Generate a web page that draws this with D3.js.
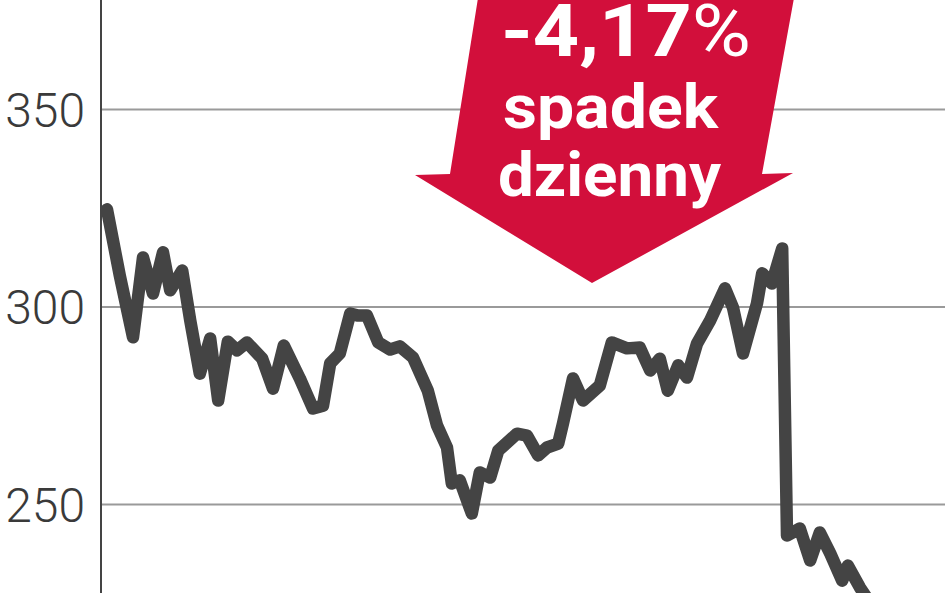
<!DOCTYPE html>
<html>
<head>
<meta charset="utf-8">
<script src="https://cdn.jsdelivr.net/npm/d3@7"></script>
<style>
  html, body { margin: 0; padding: 0; background: #fff; }
  svg { display: block; }
</style>
</head>
<body>
<svg width="948" height="593"></svg>
<script>
// trading-day index and closing price
var days = [0, 1.6, 3.25, 4.5, 5.75, 7, 7.9, 9.4, 10.4, 11.6, 12.9, 13.9, 15.1, 16.25, 17.5,
  19.4, 20.75, 22.1, 24.1, 25.75, 27, 27.9, 29.1, 30.4, 31.4, 32.5, 33.9, 35.4, 36.6, 38.25,
  40.1, 41.25, 42.5, 43.1, 44.1, 45.6, 46.6, 47.9, 48.9, 51.25, 52.5, 53.9, 55, 56.4, 57,
  58.25, 59.5, 61.6, 63.1, 65, 66.6, 67.9, 69.1, 70.1, 71.4, 72.5, 73.75, 75.4, 77.25, 78.25,
  79.5, 81.25, 81.9, 83.1, 84.4, 85, 86.6, 87.9, 89.1, 90.4, 91.9, 92.6, 94.1, 95.6, 96.9];
var prices = [324.6, 307.8, 292.2, 312.4, 303.3, 313.7, 304.1, 309.1, 296.5, 283.0, 291.9, 276.2, 291.1, 288.9, 290.9,
  286.8, 279.2, 290.1, 281.8, 274.2, 274.9, 285.6, 288.1, 298.2, 297.7, 297.7, 290.9, 289.1, 289.9, 287.1,
  278.7, 269.9, 264.3, 255.2, 256.0, 247.6, 258.0, 256.7, 263.5, 267.8, 267.3, 262.3, 264.3, 265.3, 270.4,
  281.8, 276.2, 280.0, 290.9, 289.4, 289.6, 283.8, 286.8, 278.7, 285.1, 282.0, 290.6, 296.5, 304.6, 299.7,
  288.1, 300.8, 308.4, 305.8, 314.7, 242.0, 243.8, 235.7, 242.8, 237.5, 230.6, 234.4, 228.9, 224.3, 220.0];
var yTicks = [250, 300, 350];
var badgeLines = ["-4,17", "%", "spadek", "dzienny"];

var svg = d3.select("svg");
var width = +svg.attr("width");
var height = +svg.attr("height");
var left = 101, right = 945;

var x = d3.scaleLinear([0, 105], [107, 947]);
var y = d3.scaleLinear([250, 350], [504, 109]);

var data = days.map(function (d, i) { return { day: d, price: prices[i] }; });

// grid + labels
var yAxis = d3.axisLeft(y).tickValues(yTicks).tickSize(-(right - left)).tickPadding(16);
var ga = svg.append("g").attr("transform", `translate(${left},0)`).call(yAxis);
ga.select(".domain").remove();
ga.selectAll(".tick line").attr("stroke", "#9a9a9a").attr("stroke-width", 2);
ga.selectAll(".tick text")
  .attr("fill", "#3a3a3a")
  .style("font-family", "Roboto, 'Noto Sans', sans-serif")
  .style("font-weight", 300)
  .style("font-size", "48px")
  .attr("dy", "0.36em");

// vertical axis line
svg.append("line")
  .attr("x1", left).attr("x2", left)
  .attr("y1", 0).attr("y2", height)
  .attr("stroke", "#444").attr("stroke-width", 2);

// red arrow badge
svg.append("path")
  .attr("d", "M478,-2 L794,-2 L762,174 L793,173 L592,283 L415,175 L450,174 Z")
  .attr("fill", "#d20f3b");

var badge = svg.append("g")
  .attr("fill", "#fff")
  .style("font-family", "Roboto, 'Noto Sans', sans-serif")
  .style("font-weight", 700);
var head = badge.append("text").attr("x", 501).attr("y", 56)
  .style("font-size", "72px").attr("textLength", 250).attr("lengthAdjust", "spacingAndGlyphs");
head.append("tspan").text(badgeLines[0]);
head.append("tspan").style("font-weight", 400).text(badgeLines[1]);
badge.append("text").attr("x", 503).attr("y", 128)
  .style("font-size", "62px").attr("textLength", 215).attr("lengthAdjust", "spacingAndGlyphs")
  .text(badgeLines[2]);
badge.append("text").attr("x", 498).attr("y", 196)
  .style("font-size", "62px").attr("textLength", 223).attr("lengthAdjust", "spacingAndGlyphs")
  .text(badgeLines[3]);

// price line
var line = d3.line()
  .x(function (d) { return x(d.day); })
  .y(function (d) { return y(d.price); });

svg.append("path")
  .datum(data)
  .attr("d", line)
  .attr("fill", "none")
  .attr("stroke", "#444")
  .attr("stroke-width", 12.5)
  .attr("stroke-linejoin", "round")
  .attr("stroke-linecap", "round");
</script>
</body>
</html>
